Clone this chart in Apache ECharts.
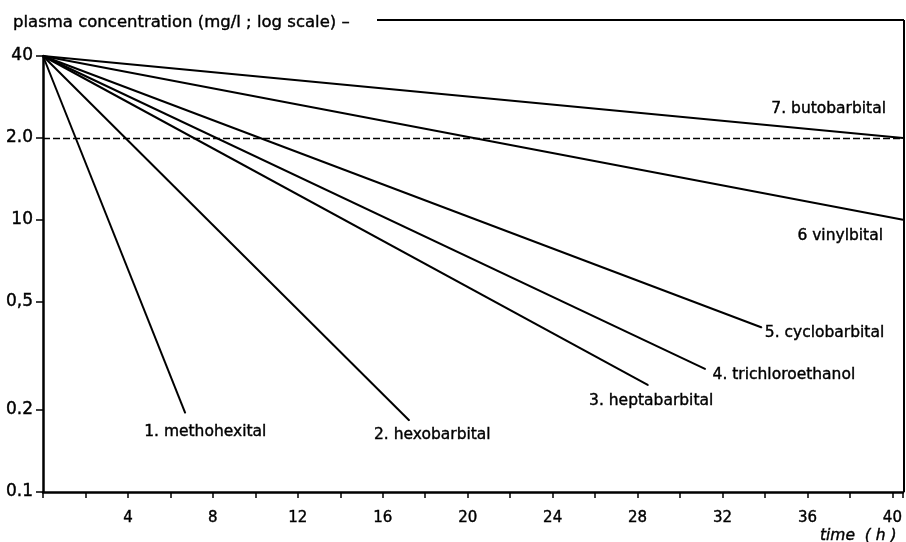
<!DOCTYPE html>
<html>
<head>
<meta charset="utf-8">
<script src="https://cdn.jsdelivr.net/npm/echarts@6/dist/echarts.min.js"></script>
<style>
  html, body { margin: 0; padding: 0; background: #fff; }
  #chart { width: 906px; height: 542px; }
</style>
</head>
<body>
<div id="chart"></div>
<script>
// Plasma elimination of barbiturates: every drug starts at 4.0 mg/l at t = 0
// and declines exponentially (a straight line on the log axis).
const drugs = ['1. methohexital', '2. hexobarbital', '3. heptabarbital',
  '4. trichloroethanol', '5. cyclobarbital', '6 vinylbital', '7. butobarbital'];
const startTimes = [0, 0, 0, 0, 0, 0, 0];
const startConcs = [4.0, 4.0, 4.0, 4.0, 4.0, 4.0, 4.0];
const endTimes = [6.7, 17.25, 28.5, 31.2, 33.85, 40.5, 40.5];
const endConcs = [0.195, 0.183, 0.247, 0.283, 0.402, 1.0, 2.0];

// y ticks (log axis) and the text printed beside them
const yTickValues = [4, 2, 1, 0.5, 0.2, 0.1];
const yTickLabels = ['40', '2.0', '10', '0,5', '0.2', '0.1'];
// x tick labels (hours)
const xTickLabels = [4, 8, 12, 16, 20, 24, 28, 32, 36, 40];
// dashed reference level
const refLevel = [2.0];

const FONT = '"DejaVu Sans", sans-serif';
// slight outline to give the lettering a pen-drawn weight
const INK = { color: '#000', textBorderColor: '#000', textBorderWidth: 0.4 };

// where each drug name sits relative to the end of its line
const nameStyle = [
  { align: 'center', offset: [20, 19] },
  { align: 'center', offset: [23, 14] },
  { align: 'center', offset: [3, 16] },
  { align: 'left', offset: [7, 6] },
  { align: 'left', offset: [3, 5] },
  { align: 'right', offset: [-20, 16] },
  { align: 'right', offset: [-17, -29] }
];

function yLabel(v) {
  let best = 0, bestD = Infinity;
  yTickValues.forEach((t, i) => {
    const d = Math.abs(Math.log10(v) - Math.log10(t));
    if (d < bestD) { bestD = d; best = i; }
  });
  return bestD < 0.01 ? yTickLabels[best] : '';
}

const series = drugs.map((name, i) => ({
  type: 'line',
  name: name,
  showSymbol: true,
  symbol: 'circle',
  symbolSize: 1,
  itemStyle: { color: '#000' },
  lineStyle: { color: '#000', width: 2 },
  clip: false,
  z: 3,
  data: [
    { value: [startTimes[i], startConcs[i]] },
    {
      value: [endTimes[i], endConcs[i]],
      label: Object.assign({
        show: true,
        formatter: name,
        position: 'inside',
        align: nameStyle[i].align,
        verticalAlign: 'middle',
        offset: nameStyle[i].offset,
        fontFamily: FONT,
        fontSize: 15.5
      }, INK)
    }
  ],
  markLine: i === 0 ? {
    silent: true,
    symbol: 'none',
    label: { show: false },
    lineStyle: { color: '#000', type: [7, 3], width: 1.4 },
    data: refLevel.map(v => ({ yAxis: v }))
  } : undefined
}));

const chart = echarts.init(document.getElementById('chart'), null, { renderer: 'canvas' });
chart.setOption({
  animation: false,
  backgroundColor: '#fff',
  title: [
    {
      text: 'plasma concentration (mg/l ; log scale) –',
      left: 8, top: 9,
      textStyle: Object.assign({ fontFamily: FONT, fontSize: 16.5, fontWeight: 'normal' }, INK)
    },
    {
      text: 'time  ( h )',
      right: 4, top: 523,
      textStyle: Object.assign({ fontFamily: FONT, fontSize: 15.5, fontWeight: 'normal', fontStyle: 'italic' }, INK)
    }
  ],
  grid: { left: 43, right: 2, top: 56, bottom: 50, containLabel: false },
  xAxis: {
    type: 'value',
    min: 0, max: 40.5, interval: 2,
    axisLine: { show: true, onZero: false, lineStyle: { color: '#000', width: 2.5 } },
    axisTick: { show: true, inside: false, length: 6, lineStyle: { color: '#000', width: 1.5 } },
    axisLabel: Object.assign({
      margin: 19,
      fontFamily: FONT, fontSize: 15,
      formatter: v => (xTickLabels.indexOf(Math.round(v * 100) / 100) >= 0 ? String(v) : '')
    }, INK),
    splitLine: { show: false }
  },
  yAxis: {
    type: 'log', logBase: 10,
    min: 0.1, max: 4,
    axisLine: { show: true, lineStyle: { color: '#000', width: 2.5 } },
    axisTick: { show: true, length: 7, customValues: yTickValues, lineStyle: { color: '#000', width: 1.5 } },
    axisLabel: Object.assign({
      customValues: yTickValues,
      margin: 10,
      fontFamily: FONT, fontSize: 17,
      formatter: v => yLabel(v)
    }, INK),
    splitLine: { show: false },
    minorTick: { show: false }
  },
  graphic: [
    { type: 'line', shape: { x1: 377, y1: 20, x2: 904, y2: 20 }, style: { stroke: '#000', lineWidth: 2 } },
    { type: 'line', shape: { x1: 904, y1: 20, x2: 904, y2: 492 }, style: { stroke: '#000', lineWidth: 2 } }
  ],
  series: series
});
</script>
</body>
</html>
